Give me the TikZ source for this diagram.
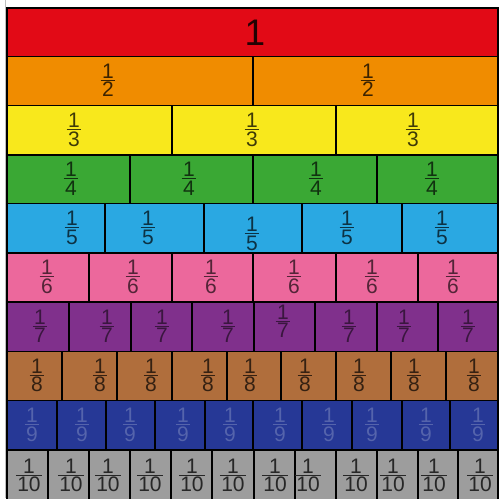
\documentclass[tikz,border=0pt]{standalone}
\usepackage{fontspec}
\setmainfont{Liberation Sans}
\setlength{\arrayrulewidth}{1pt}
\definecolor{cRed}{RGB}{226,10,22}
\definecolor{cOrange}{RGB}{240,140,0}
\definecolor{cYellow}{RGB}{248,232,28}
\definecolor{cGreen}{RGB}{58,168,52}
\definecolor{cBlue}{RGB}{42,168,226}
\definecolor{cPink}{RGB}{236,104,156}
\definecolor{cPurple}{RGB}{128,48,140}
\definecolor{cBrown}{RGB}{176,110,60}
\definecolor{cNavy}{RGB}{38,56,150}
\definecolor{cNavyText}{RGB}{85,100,172}
\definecolor{cGrey}{RGB}{157,157,157}
\newcommand{\frc}[1]{\renewcommand{\arraystretch}{1}%
  \begin{tabular}{@{\hspace{1.5pt}}c@{\hspace{1.5pt}}}1\\[-5pt]\hline\noalign{\vskip1.5pt}#1\\[-5pt]\end{tabular}}
\newcommand{\fracrow}[7]{%
  \fill[#3] (7,#1) rectangle (498,#2);
  \foreach \d in {#5} {\draw[cellline] (\d,#1) -- (\d,#2);}
  \foreach \lx/\dy [count=\i] in {#6} {%
    \node[lbl,text=#4] (r#7c\i) at (\lx,{(#1+#2)/2+\dy}) {\frc{#7}};}
  \draw[cellline] (7,#1) rectangle (498,#2);
}
\begin{document}
\begin{tikzpicture}[x=1pt,y=-1pt,
  cellline/.style={line width=1.8pt,black},
  lbl/.style={font=\fontsize{21}{21}\selectfont,inner sep=0pt}]
\useasboundingbox (0,0) rectangle (500,498);
\fill[white] (0,0) rectangle (500,498);
\begin{scope}
\clip (0,0) rectangle (500,498);
\draw[line width=1pt,black!25] (5,0) -- (5,498);
% row 1
\fill[cRed] (7,8) rectangle (498,56.5);
\draw[cellline] (7,8) rectangle (498,56.5);
\node[font=\fontsize{37}{37}\selectfont,inner sep=0pt,text=cRed!15!black] (one) at (255,33) {1};
\fracrow{56.5}{105.5}{cOrange}{cOrange!25!black}{253}{108/0,368/0}{2}
\fracrow{105.5}{155}{cYellow}{cYellow!25!black}{172,336}{74/0,252/0,413/0}{3}
\fracrow{155}{203.5}{cGreen}{cGreen!30!black}{130,253,377}{71/0,189/0,316/0,432/0}{4}
\fracrow{203.5}{253}{cBlue}{cBlue!30!black}{105,204,302,402}{72/0,148/0,252/6,347/0,442/0}{5}
\fracrow{253}{302}{cPink}{cPink!35!black}{89,172,253,336,418}{47/0,133/0,211/0,294/0,372/0,453/0}{6}
\fracrow{302}{351.5}{cPurple}{cPurple!45!black}{69,131,192,254,315,377,438}{40/0,107/0,162/0,228/0,283/-5,349/0,404/0,468/0}{7}
\fracrow{351.5}{400.5}{cBrown}{cBrown!30!black}{62,117,172,227,281,336,391,446}{37/0,100/0,151/0,208/0,250/0,305/0,359/0,414/0,474/0}{8}
\fracrow{400.5}{450}{cNavy}{cNavyText}{57,106,155,205,253,302,352,402,450}{32/0,82/0,130/0,183/0,230/0,280/0,329/0,372/0,426/0,478/0}{9}
\fracrow{450}{502}{cGrey}{cGrey!25!black}{48,89,130,171,212,254,295,336,377,418,458}{29/0,71/0,108/0,150/0,192/0,233/0,275/0,308/0,356/0,393/0,434/0,480/0}{10}
\end{scope}
\end{tikzpicture}
\end{document}
